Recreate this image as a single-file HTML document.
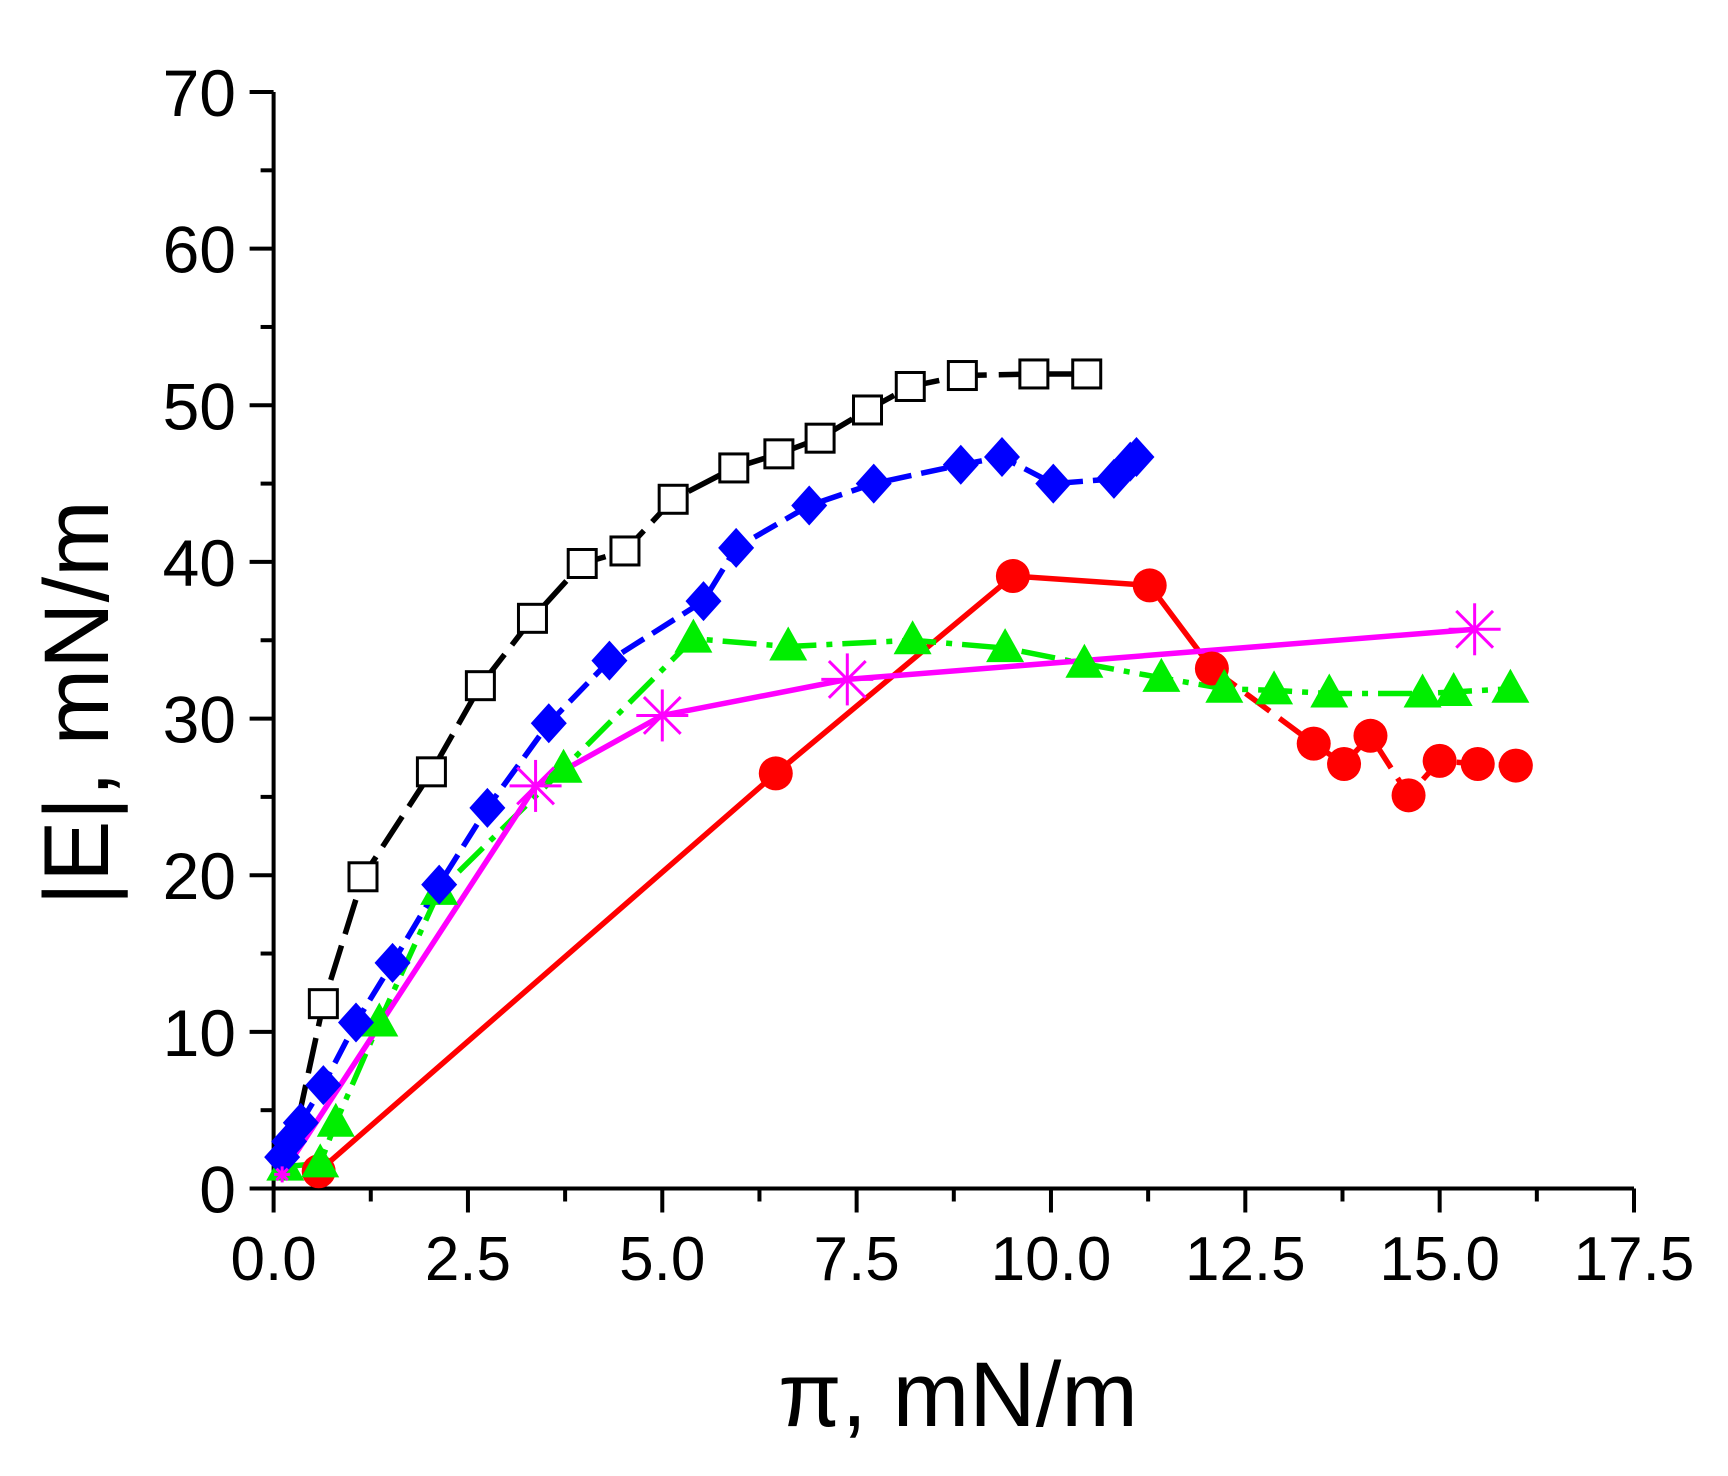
<!DOCTYPE html>
<html><head><meta charset="utf-8"><style>
html,body{margin:0;padding:0;background:#fff;}
svg{display:block;}
text{font-family:"Liberation Sans",Arial,sans-serif;fill:#000;}
</style></head><body>
<svg id="s" xmlns="http://www.w3.org/2000/svg" width="1728" height="1476" viewBox="0 0 1728 1476"></svg>
<script>
const S=document.getElementById('s');
const X0=273.6,X1=1634,Y0=1188.5,Y70=92;
const px=x=>X0+x*(X1-X0)/17.5, py=y=>Y0-y*(Y0-Y70)/70;
let h='';
h+=`<line x1="${X0}" y1="${Y70}" x2="${X0}" y2="${Y0}" stroke="#000" stroke-width="4"/>`;
h+=`<line x1="${X0}" y1="${Y0}" x2="${X1}" y2="${Y0}" stroke="#000" stroke-width="4"/>`;
for(let v=0;v<=70;v+=5){const y=py(v),maj=v%10==0;h+=`<line x1="${X0-(maj?24:13)}" y1="${y}" x2="${X0}" y2="${y}" stroke="#000" stroke-width="4"/>`;
if(maj)h+=`<text x="236" y="${y+24}" font-size="66" text-anchor="end">${v}</text>`;}
for(let i=0;i<=14;i++){const v=i*1.25,x=px(v),maj=i%2==0;h+=`<line x1="${x}" y1="${Y0}" x2="${x}" y2="${Y0+(maj?24:13)}" stroke="#000" stroke-width="4"/>`;
if(maj)h+=`<text x="${x}" y="1280" font-size="62" text-anchor="middle">${v.toFixed(1)}</text>`;}
h+=`<text x="958" y="1426" font-size="92" text-anchor="middle">π, mN/m</text>`;
h+=`<text transform="translate(108,703) rotate(-90)" font-size="92" text-anchor="middle">|E|, mN/m</text>`;
function line(d,c,dash){h+=`<polyline fill="none" stroke="${c}" stroke-width="5.5" ${dash?`stroke-dasharray="${dash}"`:''} points="${d.map(p=>px(p[0])+','+py(p[1])).join(' ')}"/>`;}
const red=[[0.58,1.1],[6.46,26.5],[9.51,39.1],[11.27,38.5],[12.07,33.2],[13.38,28.4],[13.77,27.1],[14.11,28.9],[14.6,25.1],[15.0,27.3],[15.49,27.1],[15.98,27.0]];
const green=[[0.15,1.4],[0.6,1.6],[0.8,4.2],[1.36,10.6],[2.13,19.0],[3.73,26.8],[5.4,35.1],[6.62,34.6],[8.22,35.0],[9.41,34.5],[10.43,33.5],[11.42,32.6],[12.23,31.9],[12.87,31.8],[13.58,31.6],[14.78,31.6],[15.18,31.7],[15.91,31.9]];
const black=[[0.1,1.5],[0.3,4],[0.64,11.8],[1.15,19.9],[2.03,26.6],[2.66,32.1],[3.33,36.4],[3.97,39.9],[4.52,40.7],[5.14,44.0],[5.92,46.0],[6.5,46.9],[7.03,47.9],[7.64,49.7],[8.19,51.2],[8.86,51.9],[9.78,52.0],[10.46,52.0]];
const blue=[[0.11,2],[0.2,3],[0.35,4.2],[0.64,6.6],[1.06,10.6],[1.53,14.4],[2.13,19.4],[2.75,24.3],[3.54,29.7],[4.32,33.7],[5.53,37.5],[5.95,40.9],[6.89,43.6],[7.72,45.0],[8.84,46.2],[9.37,46.7],[10.03,45.0],[10.81,45.3],[11.02,46.4],[11.1,46.7]];
const mag=[[0.11,0.9],[3.37,25.7],[5.0,30.2],[7.38,32.5],[15.45,35.7]];
line(red.slice(0,5),'#f00');line(red.slice(4),'#f00','30 12');
line(green,'#0e0','34 10 6 10');
line(black,'#000','36 12');
line(blue,'#00f','26 10');
line(mag,'#f0f');
red.forEach(p=>h+=`<circle cx="${px(p[0])}" cy="${py(p[1])}" r="17" fill="#f00"/>`);
green.forEach(p=>{const x=px(p[0]),y=py(p[1]);h+=`<polygon points="${x},${y-20} ${x-19},${y+14} ${x+19},${y+14}" fill="#0e0"/>`;});
black.slice(2).forEach(p=>{const x=px(p[0]),y=py(p[1]);h+=`<rect x="${x-14}" y="${y-14}" width="28" height="28" fill="#fff" stroke="#000" stroke-width="3"/>`;});
blue.forEach(p=>{const x=px(p[0]),y=py(p[1]);h+=`<polygon points="${x},${y-20} ${x+18},${y} ${x},${y+20} ${x-18},${y}" fill="#00f"/>`;});
mag.forEach((p,i)=>{const x=px(p[0]),y=py(p[1]),r=i?26:8;for(let k=0;k<4;k++){const a=k*Math.PI/4;h+=`<line x1="${x-r*Math.cos(a)}" y1="${y-r*Math.sin(a)}" x2="${x+r*Math.cos(a)}" y2="${y+r*Math.sin(a)}" stroke="#f0f" stroke-width="3"/>`;}});
S.innerHTML=h;
</script>
</body></html>
